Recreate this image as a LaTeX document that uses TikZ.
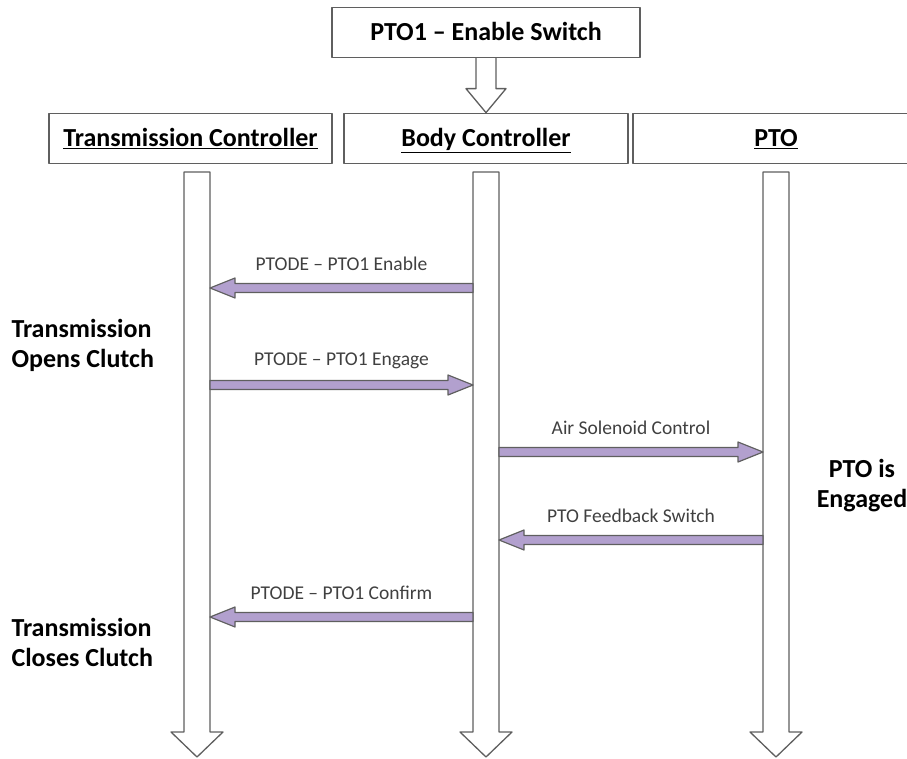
\documentclass[tikz,border=0pt]{standalone}
\usepackage{fontspec}
\setmainfont{Carlito}
\usetikzlibrary{calc}
\definecolor{msgfill}{RGB}{178,160,206}
\definecolor{edge}{RGB}{95,95,95}
\newcommand{\lifeline}[1]{%
  \draw[lifeline] ($(#1)+(-13,0)$)--($(#1)+(-13,560)$)--($(#1)+(-26,560)$)--($(#1)+(0,585)$)
    --($(#1)+(26,560)$)--($(#1)+(13,560)$)--($(#1)+(13,0)$)--cycle;}
\newcommand{\msg}[5]{%
  \coordinate (s) at ($(#2|-#4)!13pt!(#3|-#4)$);
  \coordinate (e) at ($(#3|-#4)!13pt!(#2|-#4)$);
  \coordinate (h) at ($(e)!25pt!(s)$);
  \draw[msgarrow] ($(s)+(0,-4.5)$)--($(h)+(0,-4.5)$)--($(h)+(0,-10)$)--(e)
    --($(h)+(0,10)$)--($(h)+(0,4.5)$)--($(s)+(0,4.5)$)--cycle;
  \node[msglabel] (#1) at ($(s)!0.5!(e)+(0,-24)$) {#5};}
\begin{document}
\begin{tikzpicture}[x=1pt, y=-1pt, line cap=round, line join=round, >=stealth]
				\tikzset{hdr/.style={draw=edge, line width=1.7pt, fill=white, minimum height=50, inner sep=0pt, text height=21, text depth=4, font=\bfseries\fontsize{26}{30}\selectfont},
				lifeline/.style={draw=edge, line width=1.3pt, fill=white},
				msgarrow/.style={draw=edge, line width=1.2pt, fill=msgfill},
				msglabel/.style={text=black!75, font=\fontsize{19.5}{23}\selectfont},
				side/.style={align=left, anchor=west, font=\bfseries\fontsize{26}{30}\selectfont}}
				\clip (0,0) rectangle (907,759);
				\node[hdr, minimum width=308] (enable) at (486,32.5) {PTO1 -- Enable Switch};
				\node[hdr, minimum width=283] (tc) at (190.5,138.5) {\underline{Transmission Controller}};
				\node[hdr, minimum width=284] (bc) at (486,138.5) {\underline{Body Controller}};
				\node[hdr, minimum width=286] (pto) at (776,138.5) {\underline{PTO}};
				\draw[lifeline] ($(enable.south)+(-10,0)$)--($(bc.north)+(-10,-24)$)--($(bc.north)+(-20,-24)$)--(bc.north)
				--($(bc.north)+(20,-24)$)--($(bc.north)+(10,-24)$)--($(enable.south)+(10,0)$);
				\coordinate (tl) at (197,172);
				\coordinate (bl) at (486,172);
				\coordinate (pl) at (776,172);
				\foreach\l in {tl,bl,pl} \lifeline{\l};
				\foreach\r/\y in {r1/288,r2/385,r3/452,r4/540,r5/617} \coordinate (\r) at (0,\y);
				\msg{enab}{bl}{tl}{r1}{PTODE -- PTO1 Enable}
				\msg{engage}{tl}{bl}{r2}{PTODE -- PTO1 Engage}
				\msg{air}{bl}{pl}{r3}{Air Solenoid Control}
				\msg{fb}{pl}{bl}{r4}{PTO Feedback Switch}
				\msg{conf}{bl}{tl}{r5}{PTODE -- PTO1 Confirm}
				\node[side] (opens) at (8,345) {Transmission\\Opens Clutch};
				\node[side] (closes) at (8,642) {Transmission\\Closes Clutch};
				\node[side, align=center, anchor=center] (engaged) at (862,486) {PTO is\\Engaged};
			\end{tikzpicture}
\end{document}
